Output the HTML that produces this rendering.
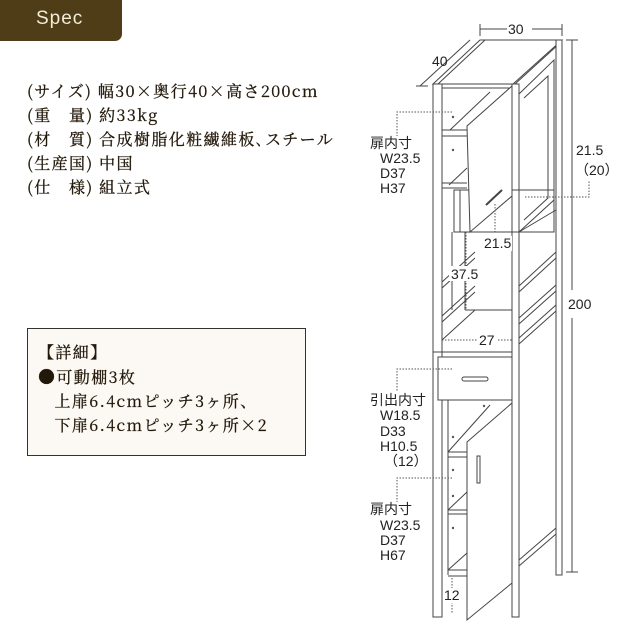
<!DOCTYPE html>
<html><head><meta charset="utf-8"><style>
body{margin:0;width:640px;height:640px;background:#fff;overflow:hidden;position:relative;font-family:"Noto Serif CJK SC","Noto Sans CJK JP",serif;color:#22180a}
.tab{position:absolute;left:0;top:0;width:122px;height:41px;background:#4e3d17;border-bottom-right-radius:7px;color:#f3ecd8;font:19px "Liberation Sans",sans-serif;letter-spacing:1px}
.tab span{position:absolute;left:36px;top:8px}
.spec{position:absolute;left:27px;top:79px;font-size:16px;line-height:24px;white-space:nowrap;letter-spacing:1.4px;-webkit-text-stroke:0.3px #22180a}
.box{position:absolute;left:27px;top:328px;width:279px;height:128px;background:#fcf8f4;border:1px solid #333;box-sizing:border-box;font-size:16px;line-height:24px;white-space:nowrap;letter-spacing:1.4px;-webkit-text-stroke:0.3px #22180a}
</style></head><body>
<div class="tab"><span>Spec</span></div>
<div class="spec">(サイズ) 幅30×奥行40×高さ200cm<br>(重　量) 約33kg<br>(材　質) 合成樹脂化粧繊維板､スチール<br>(生産国) 中国<br>(仕　様) 組立式</div>
<div class="box"><div style="position:absolute;left:10px;top:11px">【詳細】<br><span style="font-size:17px">●</span>可動棚3枚<br>&nbsp;&nbsp;&nbsp;上扉6.4cmピッチ3ヶ所、<br>&nbsp;&nbsp;&nbsp;下扉6.4cmピッチ3ヶ所×2</div></div>
<svg width="640" height="640" style="position:absolute;left:0;top:0" font-family="Liberation Sans, Noto Sans CJK JP, sans-serif" font-size="14" fill="#222">
<g stroke="#444" stroke-width="1" fill="none">
<line x1="480" y1="24" x2="480" y2="36"/><line x1="562" y1="24" x2="562" y2="36"/>
<line x1="480" y1="29" x2="507" y2="29"/><line x1="532" y1="29" x2="562" y2="29"/>
<line x1="420" y1="86" x2="470" y2="40"/><line x1="416" y1="86" x2="428" y2="86"/>
<line x1="572" y1="40" x2="572" y2="290"/><line x1="572" y1="318" x2="572" y2="572"/>
<line x1="566" y1="40" x2="578" y2="40"/><line x1="566" y1="572" x2="578" y2="572"/>
<polygon points="433,84 513,84 562,40 480,40" fill="#fff"/>
<line x1="438" y1="84" x2="485" y2="40"/><line x1="515" y1="84" x2="560" y2="43"/>
<rect x="433" y="84" width="9" height="533" fill="#fff"/>
<rect x="512" y="84" width="7" height="533" fill="#fff"/>
<rect x="556" y="40" width="6" height="535" fill="#fff"/>
<polyline points="519,94 554,60 554,200 519,232"/>
<polyline points="524,98 548,76 548,198 524,220"/>
<line x1="519" y1="232" x2="556" y2="210"/>
<line x1="519" y1="286" x2="556" y2="252"/><line x1="519" y1="292" x2="556" y2="258"/>
<line x1="519" y1="318" x2="556" y2="285"/><line x1="519" y1="324" x2="556" y2="291"/>
<line x1="519" y1="338" x2="556" y2="305"/><line x1="519" y1="344" x2="556" y2="311"/>
<line x1="519" y1="560" x2="556" y2="528"/><line x1="519" y1="566" x2="556" y2="534"/>
<line x1="442" y1="88" x2="512" y2="88"/>
<line x1="442" y1="130" x2="467" y2="130"/><line x1="442" y1="136" x2="467" y2="136"/>
<line x1="450" y1="130" x2="490" y2="92"/>
<line x1="442" y1="183" x2="467" y2="183"/><line x1="442" y1="188" x2="467" y2="188"/>
<line x1="449" y1="185" x2="467" y2="168"/>
<rect x="454" y="190" width="100" height="42"/>
<line x1="460" y1="190" x2="460" y2="232"/>
<polygon points="467,126 512,86 512,196 470,232" fill="#fff"/>
<line x1="486" y1="205" x2="502" y2="190" stroke-width="2"/>
<line x1="452" y1="232" x2="452" y2="310"/><line x1="465" y1="232" x2="465" y2="310"/>
<line x1="442" y1="282" x2="475" y2="252"/><line x1="442" y1="288" x2="475" y2="258"/>
<line x1="442" y1="316" x2="475" y2="286"/><line x1="442" y1="322" x2="475" y2="292"/>
<line x1="442" y1="340" x2="475" y2="310"/><line x1="465" y1="310" x2="512" y2="310"/>
<line x1="433" y1="352" x2="512" y2="352"/>
<rect x="438" y="357" width="74" height="43" fill="#fff"/>
<rect x="462" y="377" width="26" height="4" rx="2"/>
<line x1="448" y1="400" x2="448" y2="575"/>
<line x1="448" y1="452" x2="490" y2="405"/>
<line x1="448" y1="452" x2="467" y2="452"/><line x1="448" y1="457" x2="467" y2="457"/>
<line x1="448" y1="510" x2="467" y2="510"/><line x1="448" y1="514" x2="467" y2="514"/>
<line x1="448" y1="570" x2="467" y2="570"/><line x1="448" y1="576" x2="467" y2="576"/>
<line x1="448" y1="570" x2="467" y2="553"/><line x1="448" y1="510" x2="467" y2="492"/>
<polygon points="467,442 512,403 512,583 467,620" fill="#fff"/>
<rect x="477" y="456" width="3" height="27"/>
</g>
<g fill="#555"><circle cx="453" cy="117" r="1.2"/><circle cx="453" cy="150" r="1.2"/><circle cx="484" cy="406" r="1.2"/><circle cx="453" cy="437" r="1.2"/><circle cx="453" cy="470" r="1.2"/><circle cx="453" cy="496" r="1.2"/><circle cx="453" cy="528" r="1.2"/></g>
<g stroke="#555" stroke-dasharray="1.5,1.5" fill="none">
<polyline points="452,112 397,112 397,136"/>
<polyline points="452,369 397,369 397,392"/>
<polyline points="452,478 397,478 397,502"/>
<polyline points="525,197 589,197 589,180"/>
<line x1="495" y1="204" x2="495" y2="232"/>
<line x1="466" y1="232" x2="466" y2="310"/>
<line x1="442" y1="340" x2="478" y2="340"/><line x1="498" y1="340" x2="512" y2="340"/>
<line x1="452" y1="578" x2="452" y2="614"/>
</g>
<g fill="#fff"><rect x="482" y="236" width="30" height="15"/><rect x="449" y="266" width="30" height="15"/><rect x="478" y="333" width="20" height="14"/><rect x="443" y="588" width="20" height="15"/></g>
<text x="508" y="34">30</text><text x="432" y="66">40</text>
<text x="576" y="155">21.5</text><text x="575" y="175">（20）</text>
<text x="484" y="248">21.5</text><text x="451" y="279">37.5</text>
<text x="568" y="309">200</text><text x="479" y="345">27</text>
<text x="370" y="148">扉内寸</text><text x="380" y="163">W23.5</text><text x="380" y="178">D37</text><text x="380" y="193">H37</text>
<text x="370" y="405">引出内寸</text><text x="380" y="420">W18.5</text><text x="380" y="436">D33</text><text x="380" y="451">H10.5</text><text x="384" y="466">（12）</text>
<text x="370" y="514">扉内寸</text><text x="380" y="530">W23.5</text><text x="380" y="545">D37</text><text x="380" y="560">H67</text>
<text x="444" y="600">12</text>
</svg>
</body></html>
